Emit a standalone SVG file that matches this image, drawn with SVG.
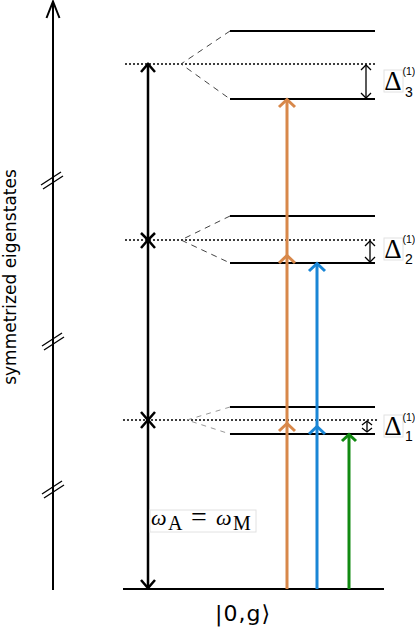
<svg xmlns="http://www.w3.org/2000/svg" width="415" height="628" viewBox="0 0 415 628">
<style>
.lvl{stroke:#000;stroke-width:2;fill:none}
.dot{stroke:#000;stroke-width:1.5;stroke-dasharray:2 2;fill:none}
.dash{stroke:#444;stroke-width:1;stroke-dasharray:6 5;fill:none}
.dashl{stroke:#999;stroke-width:1;stroke-dasharray:5 5;fill:none}
.ax{stroke:#000;stroke-width:2;fill:none}
.main{stroke:#000;stroke-width:2.5;fill:none;stroke-linejoin:miter}
.or{stroke:#d8884a;stroke-width:3;fill:none}
.bl{stroke:#1a86d6;stroke-width:3;fill:none}
.gr{stroke:#118a11;stroke-width:3;fill:none}
.del{stroke:#000;stroke-width:1.3;fill:none}
.box{fill:#fff;stroke:#e2e2e2;stroke-width:1}
.dl{font-family:"Liberation Serif",serif;font-size:27px}
.sup{font-family:"Liberation Sans",sans-serif;font-size:10.5px}
.sub{font-family:"Liberation Sans",sans-serif;font-size:14px}
</style>
<g id="axis">
<line class="ax" x1="53" y1="2" x2="53" y2="590"/>
<polyline class="ax" points="46.5,18 53,1.5 59.5,18"/>
<g stroke="#000" stroke-width="1.3">
<line x1="41" y1="185" x2="61" y2="172"/><line x1="43" y1="189" x2="63" y2="176"/>
<line x1="42" y1="346" x2="62" y2="333"/><line x1="44" y1="350" x2="64" y2="337"/>
<line x1="42" y1="494" x2="62" y2="481"/><line x1="44" y1="498" x2="64" y2="485"/>
</g>
<text transform="translate(16,277) rotate(-90)" text-anchor="middle" font-family="DejaVu Sans,sans-serif" font-size="17">symmetrized eigenstates</text>
</g>
<g id="level3">
<line class="lvl" x1="230" y1="31" x2="375" y2="31"/>
<line class="lvl" x1="230" y1="99" x2="375" y2="99"/>
<line class="dot" x1="125" y1="64" x2="377" y2="64"/>
<polyline class="dash" points="230,31 181,64 230,99"/>
</g>
<g id="level2">
<line class="lvl" x1="230" y1="216" x2="375" y2="216"/>
<line class="lvl" x1="230" y1="263" x2="375" y2="263"/>
<line class="dot" x1="125" y1="240" x2="377" y2="240"/>
<polyline class="dash" points="230,216 181,240 230,263"/>
</g>
<g id="level1">
<line class="lvl" x1="230" y1="407" x2="375" y2="407"/>
<line class="lvl" x1="230" y1="434" x2="375" y2="434"/>
<line class="dot" x1="123" y1="420" x2="377" y2="420"/>
<polyline class="dashl" points="230,407 187,420 230,434"/>
</g>
<g id="ground">
<line class="lvl" x1="123" y1="589" x2="384" y2="589"/>
<text x="215" y="621" font-family="DejaVu Sans,sans-serif" font-size="22" textLength="55" lengthAdjust="spacing">|0,g⟩</text>
</g>
<g id="connectors">
<line class="main" x1="148" y1="65" x2="148" y2="588"/>
<polyline class="main" points="141,72 148,64 155,72"/>
<polyline class="main" points="141,233 148,240 155,233"/>
<polyline class="main" points="141,248 148,240 155,248"/>
<polyline class="main" points="141,412 148,420 155,412"/>
<polyline class="main" points="141,428 148,420 155,428"/>
<polyline class="main" points="141,580 148,588 155,580"/>
<line class="or" x1="287" y1="589" x2="287" y2="100"/>
<polyline class="or" points="279,107 287,99.5 295,107"/>
<polyline class="or" points="279,263 287,255.5 295,263"/>
<polyline class="or" points="279,431 287,423.5 295,431"/>
<line class="bl" x1="317" y1="589" x2="317" y2="264"/>
<polyline class="bl" points="309,271 317,263.5 325,271"/>
<polyline class="bl" points="309,434 317,426.5 325,434"/>
<line class="gr" x1="349" y1="589" x2="349" y2="435"/>
<polyline class="gr" points="342,441 349,434.5 356,441"/>
<line class="del" x1="366" y1="65" x2="366" y2="98"/>
<polyline class="del" points="361,70 366,65 371,70"/>
<polyline class="del" points="361,93 366,98 371,93"/>
<line class="del" x1="370" y1="241" x2="370" y2="262"/>
<polyline class="del" points="365,246 370,241 375,246"/>
<polyline class="del" points="365,257 370,262 375,257"/>
<line class="del" x1="367" y1="421" x2="367" y2="432"/>
<polyline class="del" points="362,425 367,421 372,425"/>
<polyline class="del" points="362,428 367,432 372,428"/>
</g>
<g id="delta3">
<rect class="box" x="384" y="70" width="19" height="22"/>
<text class="dl" x="393" y="90" text-anchor="middle">Δ</text>
<text class="sup" x="402.5" y="75">(1)</text>
<text class="sub" x="405" y="97">3</text>
</g>
<g id="delta2">
<rect class="box" x="384" y="238" width="19" height="22"/>
<text class="dl" x="393" y="258" text-anchor="middle">Δ</text>
<text class="sup" x="402.5" y="243">(1)</text>
<text class="sub" x="405" y="264">2</text>
</g>
<g id="delta1">
<rect class="box" x="384" y="415" width="19" height="22"/>
<text class="dl" x="393" y="435" text-anchor="middle">Δ</text>
<text class="sup" x="402.5" y="421">(1)</text>
<text class="sub" x="405" y="441">1</text>
</g>
<g id="omega">
<rect class="box" x="150" y="510" width="106" height="22"/>
<text font-family="Liberation Serif,serif" y="525"><tspan x="151" font-style="italic" font-size="22">ω</tspan><tspan x="168" y="530" font-size="20">A</tspan><tspan x="191" y="526" font-size="28">=</tspan><tspan x="216" y="525" font-style="italic" font-size="22">ω</tspan><tspan x="233" y="530" font-size="20">M</tspan></text>
</g>
</svg>
